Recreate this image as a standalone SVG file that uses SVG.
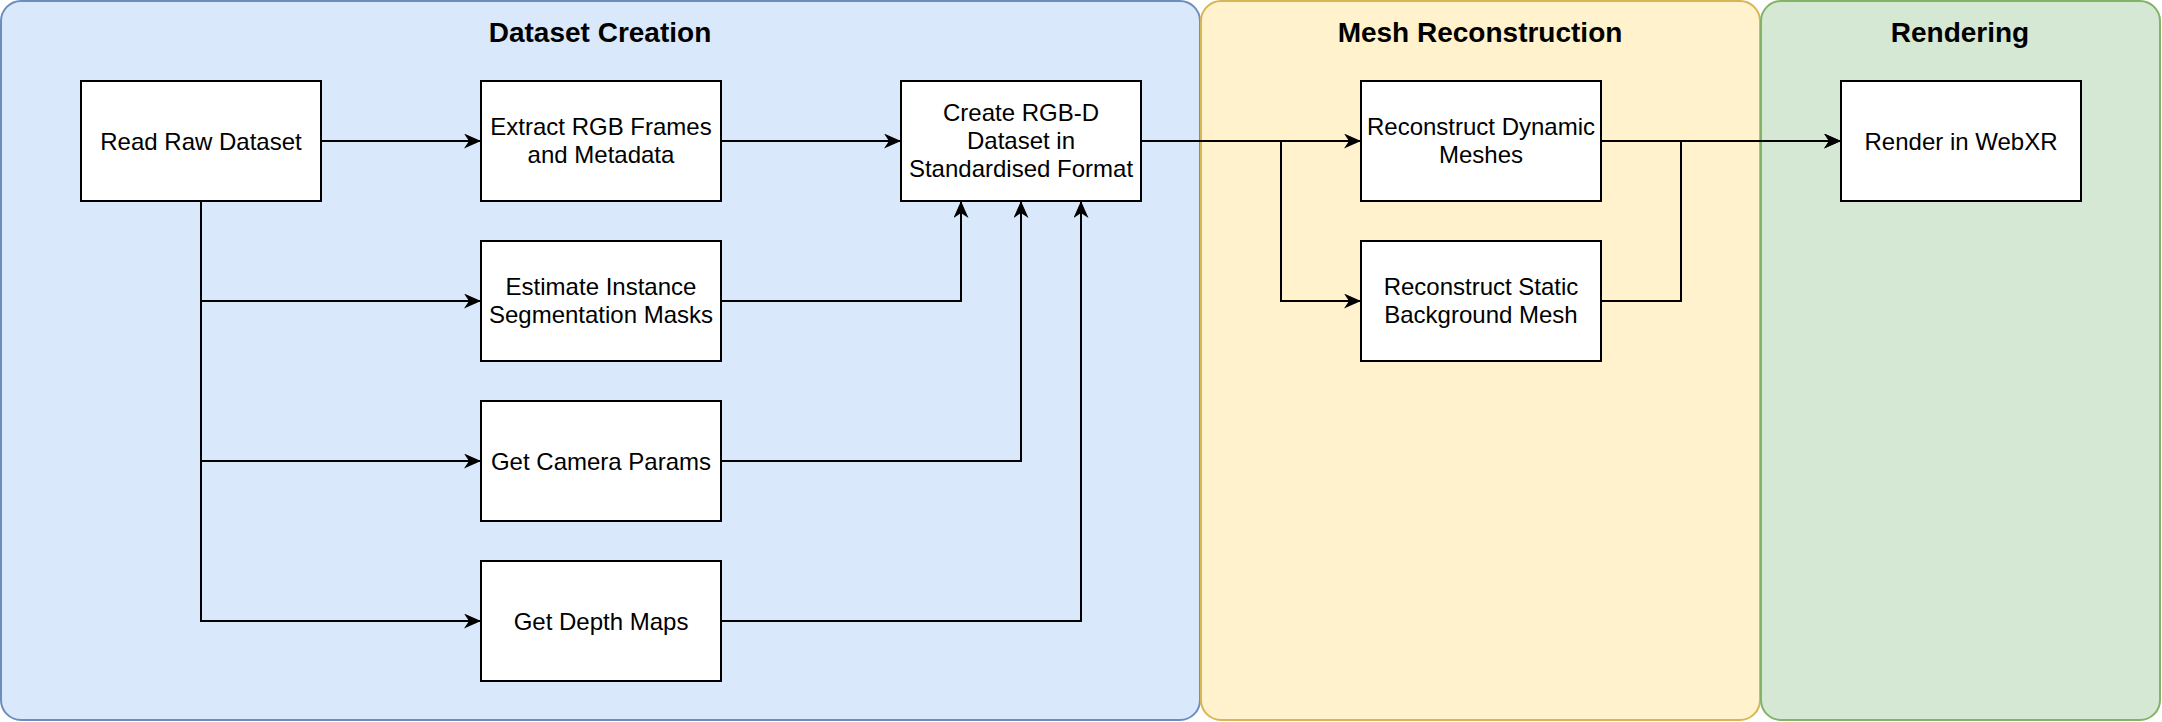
<svg xmlns="http://www.w3.org/2000/svg" width="2162" height="722" viewBox="0 0 2162 722">
  <style>
    .lane { stroke-width: 2; }
    .node rect { fill: #ffffff; stroke: #000000; stroke-width: 2; }
    text { font-family: "Liberation Sans", Arial, Helvetica, sans-serif; font-size: 24px; fill: #000000; text-anchor: middle; }
    .title { font-weight: bold; font-size: 28px; }
    .edge { fill: none; stroke: #000000; stroke-width: 2; marker-end: url(#arrow); }
  </style>
  <defs>
    <marker id="arrow" markerUnits="userSpaceOnUse" markerWidth="17" markerHeight="15" refX="17" refY="7.5" orient="auto" viewBox="0 0 17 15">
      <path d="M0,0 L17,7.5 L0,15 L5,7.5 Z" fill="#000000"/>
    </marker>
  </defs>

  <g id="lane-dataset-creation">
    <rect class="lane" x="1" y="1" width="1199" height="719" rx="20" ry="20" fill="#dae8fc" stroke="#6c8ebf"/>
    <text class="title" x="600" y="42">Dataset Creation</text>
  </g>
  <g id="lane-mesh-reconstruction">
    <rect class="lane" x="1201" y="1" width="559" height="719" rx="20" ry="20" fill="#fff2cc" stroke="#d6b656"/>
    <text class="title" x="1480" y="42">Mesh Reconstruction</text>
  </g>
  <g id="lane-rendering">
    <rect class="lane" x="1761" y="1" width="399" height="719" rx="20" ry="20" fill="#d5e8d4" stroke="#82b366"/>
    <text class="title" x="1960" y="42">Rendering</text>
  </g>

  <g id="connectors">
    <path class="edge" d="M321,141 H481"/>
    <path class="edge" d="M721,141 H901"/>
    <path class="edge" d="M201,201 V301 H481"/>
    <path class="edge" d="M201,201 V461 H481"/>
    <path class="edge" d="M201,201 V621 H481"/>
    <path class="edge" d="M721,301 H961 V201"/>
    <path class="edge" d="M721,461 H1021 V201"/>
    <path class="edge" d="M721,621 H1081 V201"/>
    <path class="edge" d="M1141,141 H1361"/>
    <path class="edge" d="M1141,141 H1281 V301 H1361"/>
    <path class="edge" d="M1601,141 H1841"/>
    <path class="edge" d="M1601,301 H1681 V141 H1841"/>
  </g>

  <g id="node-read-raw" class="node">
    <rect x="81" y="81" width="240" height="120"/>
    <text x="201" y="149.5">Read Raw Dataset</text>
  </g>
  <g id="node-extract-rgb" class="node">
    <rect x="481" y="81" width="240" height="120"/>
    <text x="601" y="134.5">Extract RGB Frames</text>
    <text x="601" y="162.5">and Metadata</text>
  </g>
  <g id="node-create-rgbd" class="node">
    <rect x="901" y="81" width="240" height="120"/>
    <text x="1021" y="120.5">Create RGB-D</text>
    <text x="1021" y="148.5">Dataset in</text>
    <text x="1021" y="176.5">Standardised Format</text>
  </g>
  <g id="node-estimate-masks" class="node">
    <rect x="481" y="241" width="240" height="120"/>
    <text x="601" y="294.5">Estimate Instance</text>
    <text x="601" y="322.5">Segmentation Masks</text>
  </g>
  <g id="node-camera-params" class="node">
    <rect x="481" y="401" width="240" height="120"/>
    <text x="601" y="469.5">Get Camera Params</text>
  </g>
  <g id="node-depth-maps" class="node">
    <rect x="481" y="561" width="240" height="120"/>
    <text x="601" y="629.5">Get Depth Maps</text>
  </g>
  <g id="node-dynamic-meshes" class="node">
    <rect x="1361" y="81" width="240" height="120"/>
    <text x="1481" y="134.5">Reconstruct Dynamic</text>
    <text x="1481" y="162.5">Meshes</text>
  </g>
  <g id="node-static-mesh" class="node">
    <rect x="1361" y="241" width="240" height="120"/>
    <text x="1481" y="294.5">Reconstruct Static</text>
    <text x="1481" y="322.5">Background Mesh</text>
  </g>
  <g id="node-render-webxr" class="node">
    <rect x="1841" y="81" width="240" height="120"/>
    <text x="1961" y="149.5">Render in WebXR</text>
  </g>
</svg>
